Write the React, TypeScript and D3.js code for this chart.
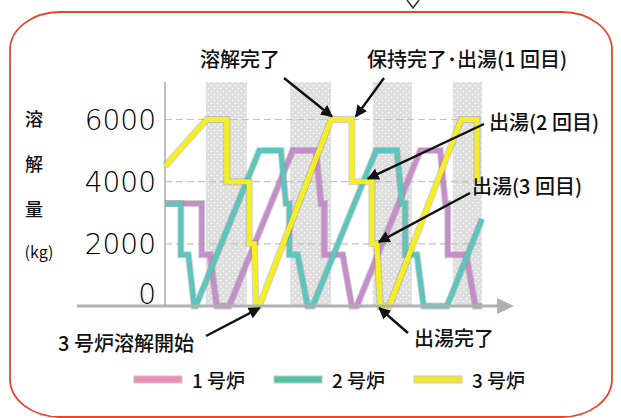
import { useEffect, useRef } from "react";
import * as d3 from "d3";

const W = 621;
const H = 418;

// time runs in arbitrary units along the x axis
const timeDomain: [number, number] = [0, 38];
const bands: [number, number][] = [
  [4.9, 9.8],
  [15, 19.9],
  [24.9, 29.6],
  [34.5, 38],
];
const yTicks = [0, 2000, 4000, 6000];
const gridValues = [2000, 4000, 6000];

// 1号炉
const furnace1: [number, number][] = [
  [0, 3300], [4.4, 3300], [4.4, 1650], [5.4, 1650], [6.2, 0], [7.7, 0],
  [15.3, 5000], [18.1, 5000], [18.7, 3300], [19.1, 3300], [19.1, 1650],
  [21.3, 1650], [22.4, 0], [23.0, 0], [30.6, 5000], [33.0, 5000],
  [33.6, 3300], [33.9, 3300], [33.9, 1650], [36.1, 1650], [37.2, 0], [38, 0],
];
// 2号炉
const furnace2: [number, number][] = [
  [0, 3300], [1.9, 3300], [1.9, 1650], [2.8, 1650], [3.5, 0], [3.7, 0],
  [11.3, 5000], [13.9, 5000], [14.5, 3300], [14.9, 3300], [14.9, 1650],
  [15.9, 1650], [17.1, 0], [17.7, 0], [25.3, 5000], [27.8, 5000],
  [28.4, 3300], [28.8, 3300], [28.8, 1650], [30.2, 1650], [31.0, 0],
  [33.8, 0], [38, 2800],
];
// 3号炉
const furnace3: [number, number][] = [
  [0, 4500], [5.0, 6000], [7.4, 6000], [7.4, 4000], [10.1, 4000],
  [10.1, 2000], [10.7, 2000], [10.9, 0], [11.3, 0], [19.9, 6000],
  [22.4, 6000], [22.4, 4000], [24.8, 4000], [24.8, 2000], [25.4, 2000],
  [25.8, 0], [26.9, 0], [35.5, 6000], [37.4, 6000], [37.4, 4000],
];

const seriesNames = ["1 号炉", "2 号炉", "3 号炉"];
const lineColors = ["#c68dcb", "#5cc5bd", "#f5ee22"];
const legendColors = ["#f08db6", "#4fc2a4", "#f1e72e"];

const yTitle = ["溶", "解", "量"];

const JP = "'Noto Sans CJK JP', 'Noto Sans', sans-serif";

export default function App() {
  const svgRef = useRef<SVGSVGElement>(null);

  useEffect(() => {
    if (!svgRef.current) return;
    const svg = d3.select(svgRef.current);
    svg.selectAll("*").remove();

    const x = d3.scaleLinear().domain(timeDomain).range([165, 482]);
    const y = d3.scaleLinear().domain([0, 6000]).range([306, 119.5]);

    // outer red frame
    svg
      .append("rect")
      .attr("x", 10)
      .attr("y", 12)
      .attr("width", 602)
      .attr("height", 405)
      .attr("rx", 50)
      .attr("ry", 38)
      .attr("fill", "none")
      .attr("stroke", "#e8462c")
      .attr("stroke-width", 1.8);

    // little arrow tip above the frame
    svg
      .append("polyline")
      .attr("points", "407,0 413,8 419,0")
      .attr("fill", "none")
      .attr("stroke", "#333")
      .attr("stroke-width", 1.5);

    const defs = svg.append("defs");
    const pat = defs
      .append("pattern")
      .attr("id", "dots")
      .attr("width", 6)
      .attr("height", 6)
      .attr("patternUnits", "userSpaceOnUse");
    pat.append("rect").attr("width", 6).attr("height", 6).attr("fill", "#dedede");
    pat.append("circle").attr("cx", 1.5).attr("cy", 1.5).attr("r", 0.8).attr("fill", "#fff");
    pat.append("circle").attr("cx", 4.5).attr("cy", 4.5).attr("r", 0.8).attr("fill", "#fff");

    defs
      .append("marker")
      .attr("id", "arrow")
      .attr("viewBox", "0 0 10 10")
      .attr("refX", 9)
      .attr("refY", 5)
      .attr("markerWidth", 5)
      .attr("markerHeight", 5)
      .attr("markerUnits", "strokeWidth")
      .attr("orient", "auto")
      .append("path")
      .attr("d", "M0,0 L10,5 L0,10 Z")
      .attr("fill", "#111");

    // shaded bands
    svg
      .append("g")
      .selectAll("rect")
      .data(bands)
      .join("rect")
      .attr("x", (d) => x(d[0]))
      .attr("y", 82)
      .attr("width", (d) => x(d[1]) - x(d[0]))
      .attr("height", 306 - 82)
      .attr("fill", "url(#dots)");

    // dashed grid
    svg
      .append("g")
      .selectAll("line")
      .data(gridValues)
      .join("line")
      .attr("x1", x(0))
      .attr("x2", x(38))
      .attr("y1", (d) => y(d))
      .attr("y2", (d) => y(d))
      .attr("stroke", "#c2c2c2")
      .attr("stroke-width", 1.2)
      .attr("stroke-dasharray", "7,4");

    // y axis line
    svg
      .append("line")
      .attr("x1", x(0))
      .attr("x2", x(0))
      .attr("y1", 82)
      .attr("y2", y(0))
      .attr("stroke", "#aaa")
      .attr("stroke-width", 1.5);

    // series
    const line = d3
      .line<[number, number]>()
      .x((d) => x(d[0]))
      .y((d) => y(d[1]));

    [furnace1, furnace2, furnace3].forEach((s, i) => {
      svg
        .append("path")
        .attr("d", line(s))
        .attr("fill", "none")
        .attr("stroke", "#8a8a8a")
        .attr("stroke-opacity", 0.4)
        .attr("stroke-width", 7)
        .attr("stroke-linejoin", "miter");
      svg
        .append("path")
        .attr("d", line(s))
        .attr("fill", "none")
        .attr("stroke", lineColors[i])
        .attr("stroke-width", 5)
        .attr("stroke-linejoin", "miter");
    });

    // x axis with arrow
    svg
      .append("line")
      .attr("x1", 77)
      .attr("x2", 500)
      .attr("y1", y(0))
      .attr("y2", y(0))
      .attr("stroke", "#b0b0b0")
      .attr("stroke-width", 3);
    svg
      .append("path")
      .attr("d", `M497,${y(0) - 8} L514,${y(0)} L497,${y(0) + 8} Z`)
      .attr("fill", "#b0b0b0");

    // tick labels
    svg
      .append("g")
      .selectAll("text")
      .data(yTicks)
      .join("text")
      .attr("x", 156)
      .attr("y", (d) => (d === 0 ? y(d) - 12 : y(d)))
      .attr("dy", "0.36em")
      .attr("text-anchor", "end")
      .attr("font-family", "'DejaVu Sans', sans-serif")
      .attr("font-weight", 300)
      .attr("font-size", 28)
      .attr("fill", "#000")
      .text((d) => d);

    // y title
    svg
      .append("g")
      .selectAll("text")
      .data(yTitle)
      .join("text")
      .attr("x", 34)
      .attr("y", (d, i) => 126 + i * 45)
      .attr("text-anchor", "middle")
      .attr("font-family", JP)
      .attr("font-weight", 500)
      .attr("font-size", 18)
      .attr("fill", "#111")
      .text((d) => d);
    svg
      .append("text")
      .attr("x", 39)
      .attr("y", 258)
      .attr("text-anchor", "middle")
      .attr("font-family", JP)
      .attr("font-size", 16)
      .attr("fill", "#111")
      .text("(kg)");

    // annotations
    const notes = [
      { text: "溶解完了", tx: 200, ty: 67, x1: 284, y1: 78, x2: x(19.9) + 1, y2: y(6000) - 3 },
      { text: "保持完了･出湯(1 回目)", tx: 367, ty: 67, x1: 384, y1: 78, x2: x(22.4) + 4, y2: y(6000) - 3 },
      { text: "出湯(2 回目)", tx: 489, ty: 130, x1: 484, y1: 124, x2: x(24.8) - 4, y2: y(4000) - 3 },
      { text: "出湯(3 回目)", tx: 472, ty: 194, x1: 470, y1: 193, x2: x(25.4) + 2, y2: y(2000) - 2 },
      { text: "3 号炉溶解開始", tx: 58, ty: 351, x1: 206, y1: 336, x2: x(11.1) + 2, y2: y(0) + 2 },
      { text: "出湯完了", tx: 414, ty: 346, x1: 408, y1: 333, x2: x(25.8) - 1, y2: y(0) + 2 },
    ];
    const ng = svg.append("g");
    notes.forEach((n) => {
      ng.append("line")
        .attr("x1", n.x1)
        .attr("y1", n.y1)
        .attr("x2", n.x2)
        .attr("y2", n.y2)
        .attr("stroke", "#111")
        .attr("stroke-width", 2.4)
        .attr("marker-end", "url(#arrow)");
      ng.append("text")
        .attr("x", n.tx)
        .attr("y", n.ty)
        .attr("font-family", JP)
        .attr("font-weight", 500)
        .attr("font-size", 20)
        .attr("fill", "#111")
        .text(n.text);
    });

    // legend
    const lg = svg.append("g");
    const lx = [134, 274, 414];
    seriesNames.forEach((name, i) => {
      lg.append("rect")
        .attr("x", lx[i])
        .attr("y", 376)
        .attr("width", 48)
        .attr("height", 7)
        .attr("fill", legendColors[i])
        .attr("stroke", "#c8c8c8")
        .attr("stroke-width", 1);
      lg.append("text")
        .attr("x", lx[i] + 58)
        .attr("y", 388)
        .attr("font-family", JP)
        .attr("font-weight", 500)
        .attr("font-size", 19)
        .attr("fill", "#111")
        .text(name);
    });
  }, []);

  return (
    <svg
      ref={svgRef}
      width={W}
      height={H}
      style={{ position: "absolute", left: 0, top: 0, background: "#fff" }}
    />
  );
}
